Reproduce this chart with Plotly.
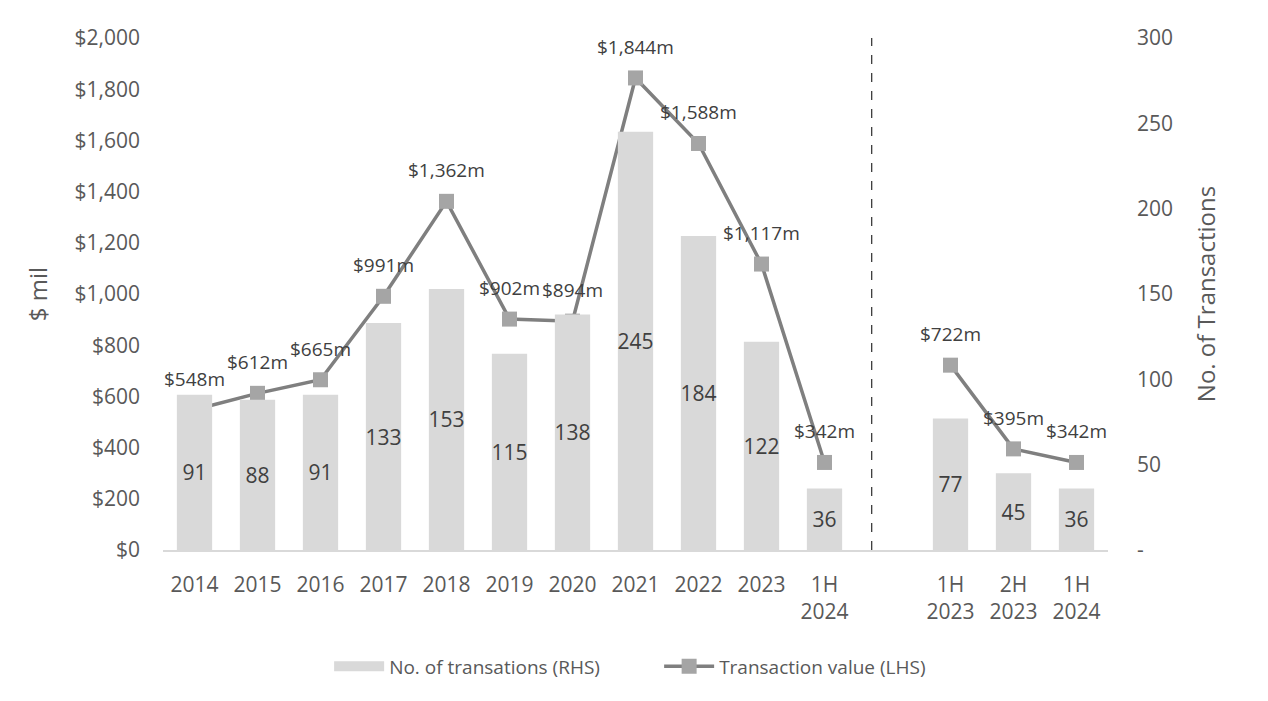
import plotly.graph_objects as go

tick_labels = ["2014", "2015", "2016", "2017", "2018", "2019", "2020", "2021", "2022", "2023",
               "1H<br>2024", "", "1H<br>2023", "2H<br>2023", "1H<br>2024"]
transactions = [91, 88, 91, 133, 153, 115, 138, 245, 184, 122, 36, None, 77, 45, 36]
values = [548, 612, 665, 991, 1362, 902, 894, 1844, 1588, 1117, 342, None, 722, 395, 342]
divider_x = 10.75

xs = list(range(len(tick_labels)))
FONT = "Open Sans, Noto Sans, sans-serif"
BAR_COLOR = "#d9d9d9"

fig = go.Figure()
fig.add_trace(go.Bar(
    x=xs, y=transactions, yaxis="y2", name="No. of transations (RHS)",
    marker=dict(color=BAR_COLOR, line=dict(width=0)),
    text=[("" if v is None else str(v)) for v in transactions],
    textposition="inside", insidetextanchor="middle", textangle=0, constraintext="none",
    textfont=dict(size=21, color="#404040", family=FONT),
    hoverinfo="skip", showlegend=False, legendgroup="bars",
))
# legend swatch for the bars (wide rectangle like the original)
fig.add_trace(go.Scatter(
    x=[None], y=[None], yaxis="y2", mode="lines", name="No. of transations (RHS)",
    line=dict(color=BAR_COLOR, width=15), legendgroup="bars",
))
fig.add_trace(go.Scatter(
    x=xs, y=values, name="Transaction value (LHS)", mode="lines+markers",
    line=dict(color="#7f7f7f", width=3.5),
    marker=dict(symbol="square", size=15, color="#a5a5a5"),
    connectgaps=False, cliponaxis=False,
))

for x, v in zip(xs, values):
    if v is None:
        continue
    fig.add_annotation(x=x, y=v, xref="x", yref="y", text=f"${v:,}m", showarrow=False,
                       yanchor="bottom", yshift=16,
                       font=dict(size=19, color="#404040", family=FONT))

fig.add_shape(type="line", xref="x", yref="paper", x0=divider_x, x1=divider_x, y0=0, y1=1,
              line=dict(color="black", width=1, dash="dash"))

fig.update_layout(
    width=1268, height=701,
    margin=dict(l=163, r=160, t=38, b=151),
    paper_bgcolor="white", plot_bgcolor="white",
    font=dict(family=FONT, color="#595959", size=21),
    bargap=0.44,
    showlegend=True,
    legend=dict(orientation="h", x=0.525, xanchor="center", y=-0.19, yanchor="top",
                font=dict(size=19, color="#595959"), traceorder="normal", itemwidth=50,
                entrywidth=265),
    xaxis=dict(range=[-0.5, 14.5], tickmode="array", tickvals=xs, ticktext=tick_labels,
               showgrid=False, showline=True, linecolor="#d9d9d9", linewidth=1.5,
               ticks="", tickfont=dict(size=21, color="#595959"), zeroline=False,
               ticklabelstandoff=15),
    yaxis=dict(range=[0, 2000], dtick=200, tickprefix="$", tickformat=",", showgrid=False,
               zeroline=False, title=dict(text="$ mil", font=dict(size=24, color="#595959"), standoff=20),
               tickfont=dict(size=21, color="#595959"), ticks="", ticklabelstandoff=22),
    yaxis2=dict(range=[0, 300], tickmode="array", tickvals=[0, 50, 100, 150, 200, 250, 300],
                ticktext=["-", "50", "100", "150", "200", "250", "300"],
                overlaying="y", side="right", showgrid=False, zeroline=False,
                title=dict(text="No. of Transactions", font=dict(size=24, color="#595959"), standoff=26),
                tickfont=dict(size=21, color="#595959"), ticks="", ticklabelstandoff=28),
)

fig.write_html("out.html")
